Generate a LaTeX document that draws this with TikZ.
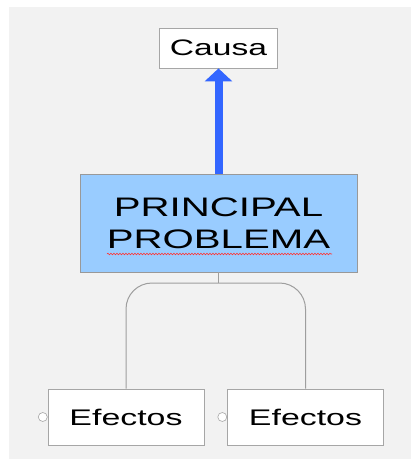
\documentclass[tikz,border=0pt]{standalone}
\usepackage{fontspec}
\setmainfont[FakeStretch=1.5]{Liberation Sans}
\usetikzlibrary{arrows.meta,positioning,decorations.pathmorphing}
\definecolor{azulclaro}{RGB}{153,204,255}
\definecolor{azul}{RGB}{51,102,255}
\tikzset{
  caja/.style={draw=black!35,fill=white,line width=0.8pt,inner sep=0pt},
  conector/.style={draw=black!38,line width=1pt},
  punto/.style={circle,draw=black!35,fill=white,line width=0.6pt,inner sep=0pt,minimum size=9pt}
}
\begin{document}
\begin{tikzpicture}[x=1pt,y=-1pt]
\useasboundingbox (0,0) rectangle (411,459);
\fill[black!5] (9,7) rectangle (411,459);
\node[caja,minimum width=118pt,minimum height=40pt,font=\fontsize{22.4}{26}\selectfont] (causa) at (218.5,48) {Causa};
\node[caja,fill=azulclaro,draw=black!40,minimum width=277pt,minimum height=98pt,align=center,font=\fontsize{26.8}{32}\selectfont] (problema) at (218.5,223) {PRINCIPAL\\PROBLEMA};
\node[caja,minimum width=156pt,minimum height=56pt,font=\fontsize{22.6}{26}\selectfont] (efecto1) at (126,417) {Efectos};
\node[caja,minimum width=156pt,minimum height=56pt,font=\fontsize{22.6}{26}\selectfont] (efecto2) at (305.5,417) {Efectos};
\node[punto,left=0pt of efecto1] (p1) {};
\node[punto,left=0pt of efecto2] (p2) {};
\coordinate (rama) at (218.5,283);
\draw[conector] (problema) -- (rama);
\draw[conector,rounded corners=26pt] (efecto1) |- (rama) -| (efecto2);
\draw[azul,line width=8pt,-{Triangle[width=27pt,length=13pt]}] (problema) -- (causa);
\draw[red!80,line width=0.6pt,decorate,decoration={snake,amplitude=0.8pt,segment length=3pt}] (107,254) -- (332,254);
\end{tikzpicture}
\end{document}
